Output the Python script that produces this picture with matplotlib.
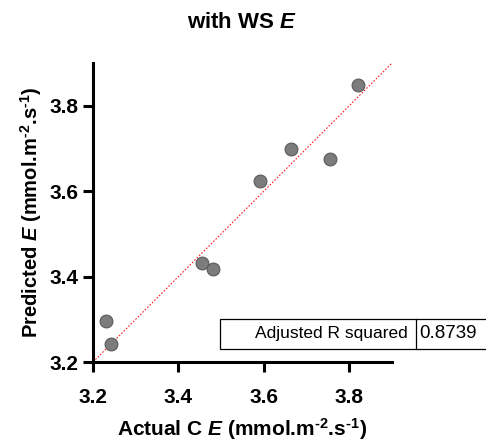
import matplotlib
matplotlib.use("Agg")
import matplotlib.pyplot as plt
from matplotlib.patches import Rectangle

# data
actual = [3.230, 3.242, 3.456, 3.481, 3.591, 3.664, 3.756, 3.820]
predicted = [3.295, 3.242, 3.431, 3.418, 3.624, 3.698, 3.675, 3.849]
ticks = [3.2, 3.4, 3.6, 3.8]
r2_label = "Adjusted R squared"
r2_value = "0.8739"

plt.rcParams['font.family'] = ['Liberation Sans', 'DejaVu Sans']
plt.rcParams['mathtext.fontset'] = 'custom'
plt.rcParams['mathtext.rm'] = 'Liberation Sans:bold'
plt.rcParams['mathtext.it'] = 'Liberation Sans:bold:italic'
plt.rcParams['mathtext.bf'] = 'Liberation Sans:bold'

fig = plt.figure(figsize=(4.86, 4.47), dpi=100)
ax = fig.add_axes([93/486, 85/447, 299/486, 299/447])

# line of identity
ax.plot([3.2, 3.9], [3.2, 3.9], color='#ff2020', linestyle=(0, (1.5, 1.5)), linewidth=0.8, zorder=1)
ax.scatter(actual, predicted, s=85, color='#7c7c7c', edgecolor='#5a5a5a', linewidth=0.8, zorder=3, clip_on=False)

ax.set_xlim(3.2, 3.9)
ax.set_ylim(3.2, 3.9)
ax.set_xticks(ticks)
ax.set_yticks(ticks)
ax.set_xticklabels([f"{t:.1f}" for t in ticks], fontweight='bold', fontsize=15)
ax.set_yticklabels([f"{t:.1f}" for t in ticks], fontweight='bold', fontsize=15)
for s in ['top', 'right']:
    ax.spines[s].set_visible(False)
for s in ['left', 'bottom']:
    ax.spines[s].set_linewidth(2.2)
ax.tick_params(width=2.2, length=7.5)
ax.tick_params(axis='x', pad=11)
ax.tick_params(axis='y', pad=3)

sup2 = '\u20102'
sup1 = '\u20101'
ax.set_xlabel(r'Actual C $\mathit{E}$ (mmol.m$^{' + sup2 + r'}$.s$^{' + sup1 + r'}$)',
              fontweight='bold', fontsize=15, labelpad=7)
ax.set_ylabel(r'Predicted $\mathit{E}$ (mmol.m$^{' + sup2 + r'}$.s$^{' + sup1 + r'}$)',
              fontweight='bold', fontsize=14.5, labelpad=4)
fig.text(242/486, 1 - 23/447, r'with WS $\mathit{E}$', ha='center', va='center', fontweight='bold', fontsize=16)

# stats table box (figure pixels)
x0, x1, xd, y0, y1 = 220, 490, 415.7, 319, 348.7
fig.patches.append(Rectangle((x0/486, 1 - y1/447), (x1 - x0)/486, (y1 - y0)/447,
                             transform=fig.transFigure, fill=True, facecolor='white',
                             edgecolor='black', linewidth=0.9, zorder=5))
fig.lines.append(plt.Line2D([xd/486, xd/486], [1 - y1/447, 1 - y0/447],
                            transform=fig.transFigure, color='black', linewidth=0.9, zorder=6))
ym = 1 - (y0 + y1)/2/447
fig.text((xd - 8)/486, ym, r2_label, ha='right', va='center', fontsize=12.5, zorder=7)
fig.text((xd + 4)/486, ym, r2_value, ha='left', va='center', fontsize=13.5, zorder=7)

fig.savefig('out.png', dpi=100)
